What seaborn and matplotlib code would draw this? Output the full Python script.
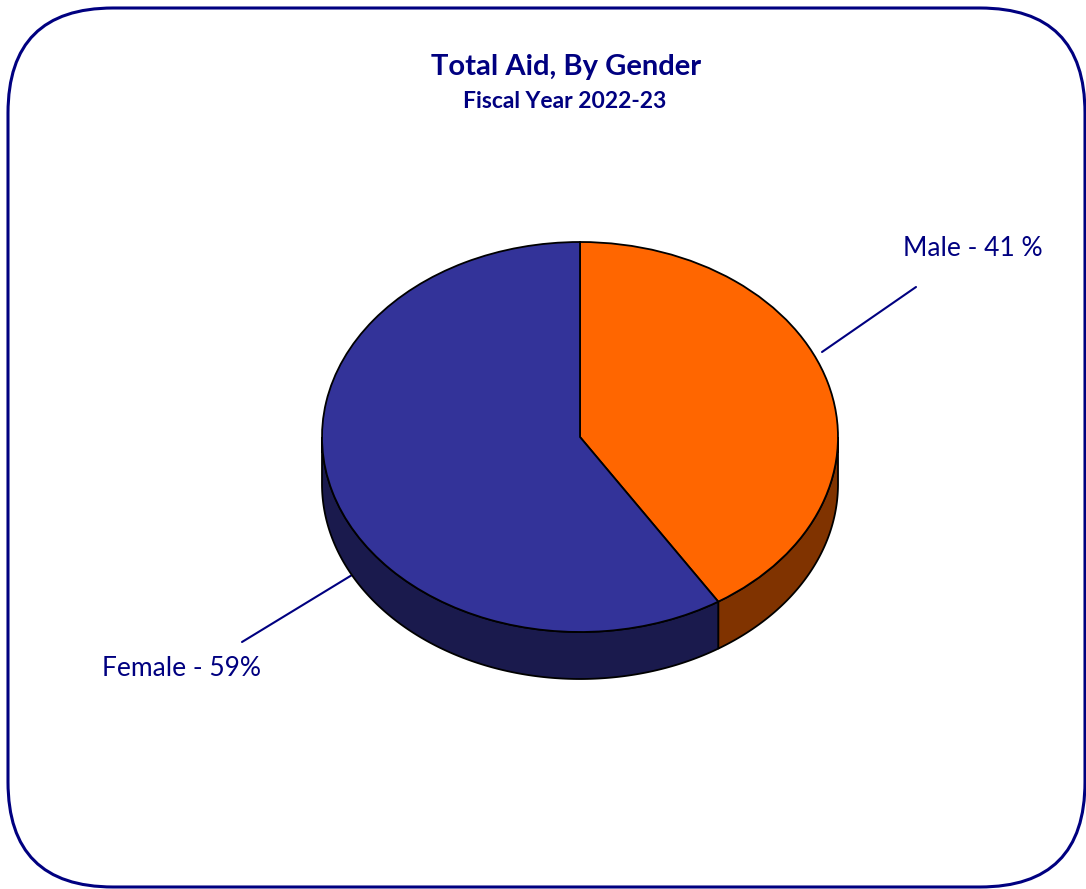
import matplotlib
matplotlib.use("Agg")

import numpy as np
import matplotlib.pyplot as plt
import seaborn as sns
from matplotlib.patches import FancyBboxPatch, Polygon

# -----------------------------
# Data
# -----------------------------

genders = ["Male", "Female"]
shares = [41, 59]
labels = ["Male - 41 %", "Female - 59%"]
top_colors = ["#FF6600", "#333399"]
side_colors = ["#803300", "#1A1A4D"]

title = "Total Aid, By Gender"
subtitle = "Fiscal Year 2022-23"

# -----------------------------
# Style
# -----------------------------

sns.set_theme(style="white")
plt.rcParams["font.family"] = ["Lato", "DejaVu Sans"]

navy = "#000080"
W, H = 1086, 889

fig = plt.figure(figsize=(W / 100, H / 100), dpi=100)

# background axes in pixel units (y down)
bg = fig.add_axes([0, 0, 1, 1])
bg.set_xlim(0, W)
bg.set_ylim(H, 0)
bg.axis("off")

frame = FancyBboxPatch(
    (8, 8), 1077, 879,
    boxstyle="round,pad=0,rounding_size=105",
    facecolor="white",
    edgecolor=navy,
    linewidth=2.2,
)
bg.add_patch(frame)

bg.text(566, 67, title, ha="center", va="center",
        fontsize=21, fontweight="bold", color=navy)
bg.text(565, 102, subtitle, ha="center", va="center",
        fontsize=16.5, fontweight="bold", color=navy)

# leader lines + labels
bg.plot([822, 916], [352, 287], color=navy, lw=1.5)
bg.plot([242, 352], [642, 575], color=navy, lw=1.5)
bg.text(973, 248, labels[0], ha="center", va="center",
        fontsize=19, color=navy)
bg.text(182, 669, labels[1], ha="center", va="center",
        fontsize=19, color=navy)

# -----------------------------
# 3D-ish pie
# -----------------------------

rx, ry, depth = 258, 195, 47
cx, cy = 580, 437
xlim = (-1.4, 1.4)
ylim = (-1.5, 1.3)
ax_w = (xlim[1] - xlim[0]) * rx
ax_h = (ylim[1] - ylim[0]) * ry
left = cx + xlim[0] * rx
top = cy - ylim[1] * ry
ax = fig.add_axes([left / W, 1 - (top + ax_h) / H, ax_w / W, ax_h / H])
ax.patch.set_alpha(0)

wedges, _ = ax.pie(
    shares,
    colors=top_colors,
    startangle=90,
    counterclock=False,
    wedgeprops=dict(edgecolor="black", linewidth=1.3),
)

d = depth / ry
for w, sc in zip(wedges, side_colors):
    t1, t2 = w.theta1, w.theta2
    for shift in (-360, 0, 360):
        a = max(t1 + shift, -180)
        b = min(t2 + shift, 0)
        if b <= a:
            continue
        t = np.radians(np.linspace(a, b, 200))
        xs = np.cos(t)
        ys = np.sin(t)
        pts = np.concatenate([
            np.column_stack([xs, ys]),
            np.column_stack([xs[::-1], ys[::-1] - d]),
        ])
        ax.add_patch(Polygon(pts, closed=True, facecolor=sc,
                             edgecolor="black", linewidth=1.3, zorder=0))

ax.set_aspect("auto")
ax.set_xlim(*xlim)
ax.set_ylim(*ylim)
ax.axis("off")

plt.savefig("out.png", dpi=100)
plt.close()
